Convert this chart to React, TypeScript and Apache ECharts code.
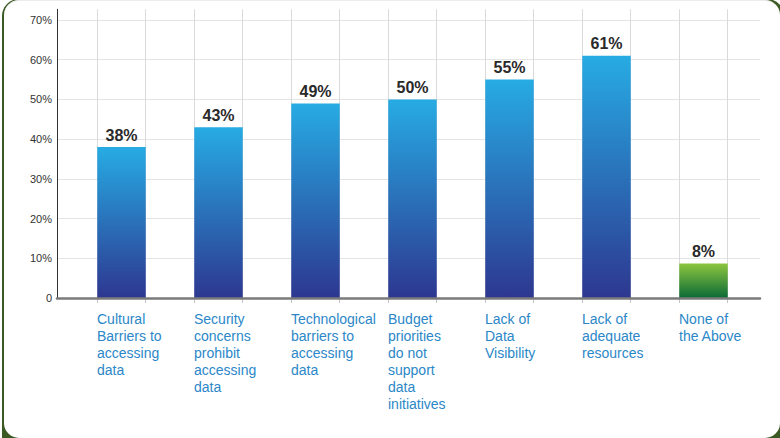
import React, { useEffect, useRef } from 'react';
import * as echarts from 'echarts';

const categories = [
  'Cultural\nBarriers to\naccessing\ndata',
  'Security\nconcerns\nprohibit\naccessing\ndata',
  'Technological\nbarriers to\naccessing\ndata',
  'Budget\npriorities\ndo not\nsupport\ndata\ninitiatives',
  'Lack of\nData\nVisibility',
  'Lack of\nadequate\nresources',
  'None of\nthe Above',
];
const values = [38, 43, 49, 50, 55, 61, 8.7];
const valueLabels = ['38%', '43%', '49%', '50%', '55%', '61%', '8%'];
const halfSlots = ['', '', '', '', '', '', '', '', '', '', '', '', ''];
const Y_MAX = 72.7;
const Y_INTERVAL = 10;

const FONT = '"Liberation Sans", Arial, Helvetica, sans-serif';

export default function App() {
  const ref = useRef<HTMLDivElement>(null);

  useEffect(() => {
    const chart = echarts.init(ref.current!, null, { renderer: 'svg' });
    const blue = new echarts.graphic.LinearGradient(0, 0, 0, 1, [
      { offset: 0, color: '#27abe3' },
      { offset: 1, color: '#2d3790' },
    ]);
    const green = new echarts.graphic.LinearGradient(0, 0, 0, 1, [
      { offset: 0, color: '#8dc63f' },
      { offset: 1, color: '#0a6a36' },
    ]);
    const top = 9.3;
    const bottom = 140;
    const hiddenY = (gridIndex: number) => ({
      type: 'value',
      gridIndex,
      min: 0,
      max: Y_MAX,
      show: false,
      splitLine: { show: false },
    });

    chart.setOption({
      animation: false,
      textStyle: { fontFamily: FONT },
      grid: [
        { left: 57, right: 20, top, bottom },
        { left: 73, right: 28, top, bottom },
        { left: 97, right: 52.5, top, bottom },
        { left: 48.5, right: 52.5, top, bottom },
      ],
      xAxis: [
        {
          gridIndex: 0,
          type: 'category',
          data: [''],
          z: 5,
          axisLine: { show: true, lineStyle: { color: '#7b7b7b', width: 2.5 } },
          axisTick: { show: false },
          axisLabel: { show: false },
          splitLine: { show: false },
        },
        { gridIndex: 1, type: 'category', data: categories, show: false },
        {
          gridIndex: 2,
          type: 'category',
          data: halfSlots,
          axisLine: { show: false },
          axisTick: { show: true, length: 5, interval: 0, lineStyle: { color: '#c4c4c4' } },
          axisLabel: { show: false },
          splitLine: { show: true, interval: 0, lineStyle: { color: '#dadada', width: 1 } },
        },
        {
          gridIndex: 3,
          type: 'category',
          data: categories,
          axisLine: { show: false },
          axisTick: { show: false },
          splitLine: { show: false },
          axisLabel: {
            interval: 0,
            align: 'left',
            verticalAlign: 'top',
            margin: 12,
            color: '#2b87c8',
            fontSize: 14,
            lineHeight: 17,
            fontFamily: FONT,
          },
        },
      ],
      yAxis: [
        {
          gridIndex: 0,
          type: 'value',
          min: 0,
          max: Y_MAX,
          interval: Y_INTERVAL,
          axisLine: { show: true, lineStyle: { color: '#333333', width: 1 } },
          axisTick: { show: false },
          axisLabel: {
            formatter: (v: number) => (v === 0 ? '0' : `${v}%`),
            color: '#333333',
            fontSize: 11,
            margin: 5,
            showMaxLabel: false,
            fontFamily: FONT,
          },
          splitLine: {
            show: true,
            showMaxLine: false,
            lineStyle: { color: '#e4e4e4', width: 1 },
          },
        },
        hiddenY(1),
        hiddenY(2),
        hiddenY(3),
      ],
      series: [
        {
          type: 'bar',
          xAxisIndex: 1,
          yAxisIndex: 1,
          barWidth: 48.5,
          data: values.map((v, i) => ({
            value: v,
            itemStyle: { color: i === values.length - 1 ? green : blue },
          })),
          label: {
            show: true,
            position: 'top',
            distance: 4,
            formatter: (p: any) => valueLabels[p.dataIndex],
            fontSize: 16,
            fontWeight: 'bold',
            color: '#2a2a2a',
            fontFamily: FONT,
          },
        },
      ],
    });
    return () => chart.dispose();
  }, []);

  return (
    <div
      style={{
        position: 'fixed',
        left: 0,
        top: 0,
        width: 780,
        height: 438,
        background: '#ffffff',
        overflow: 'hidden',
      }}
    >
      <div
        style={{
          position: 'absolute',
          left: 2,
          top: -1,
          width: 782,
          height: 445,
          background: '#3b5a23',
          borderRadius: '17px 17px 0 0',
        }}
      />
      <div
        style={{
          position: 'absolute',
          left: 4,
          top: 0,
          width: 776,
          height: 438,
          background: '#ffffff',
          borderTop: '1px solid #ececec',
          boxSizing: 'border-box',
          borderRadius: 15,
        }}
      />
      <div
        ref={ref}
        style={{ position: 'absolute', left: 0, top: 0, width: 780, height: 438 }}
      />
    </div>
  );
}
